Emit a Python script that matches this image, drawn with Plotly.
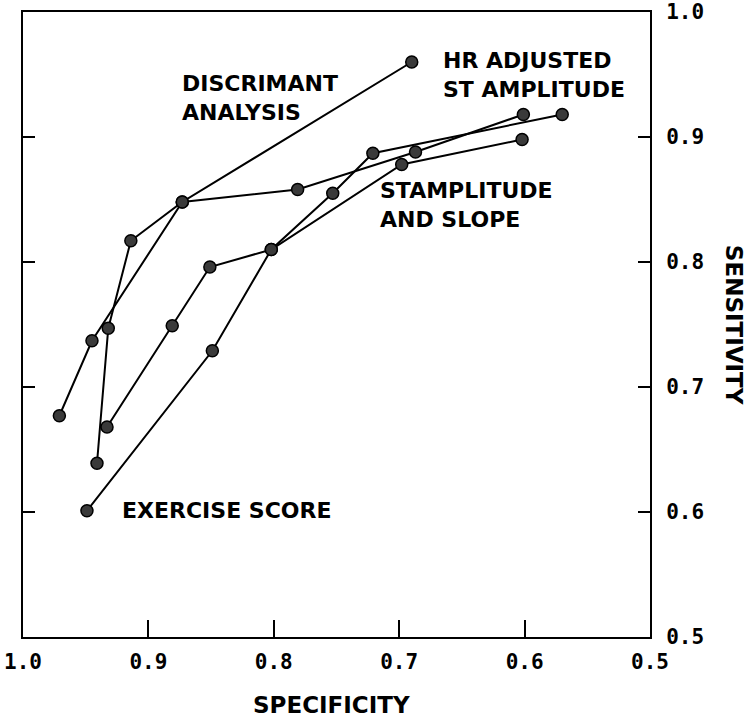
import plotly.graph_objects as go

# Discriminant analysis
da_spec = [0.971, 0.945, 0.873, 0.690]
da_sens = [0.677, 0.737, 0.848, 0.960]

# HR adjusted ST amplitude
hr_spec = [0.941, 0.932, 0.914, 0.873, 0.781, 0.687, 0.601]
hr_sens = [0.639, 0.747, 0.817, 0.848, 0.858, 0.888, 0.918]

# ST amplitude and slope
st_spec = [0.933, 0.881, 0.851, 0.802, 0.698, 0.602]
st_sens = [0.668, 0.749, 0.796, 0.810, 0.878, 0.898]

# Exercise score
ex_spec = [0.949, 0.849, 0.802, 0.753, 0.721, 0.570]
ex_sens = [0.601, 0.729, 0.810, 0.855, 0.887, 0.918]

tick_vals = [1.0, 0.9, 0.8, 0.7, 0.6, 0.5]
tick_text = ["1.0", "0.9", "0.8", "0.7", "0.6", "0.5"]

labels = [
    ("DISCRIMANT<br>ANALYSIS", 0.8748, 0.931),
    ("HR ADJUSTED<br>ST AMPLITUDE", 0.6667, 0.9496),
    ("STAMPLITUDE<br>AND SLOPE", 0.717, 0.8456),
    ("EXERCISE SCORE", 0.9226, 0.6016),
]

fig = go.Figure()
for name, xs, ys in [
    ("Discriminant analysis", da_spec, da_sens),
    ("HR adjusted ST amplitude", hr_spec, hr_sens),
    ("ST amplitude and slope", st_spec, st_sens),
    ("Exercise score", ex_spec, ex_sens),
]:
    fig.add_trace(go.Scatter(
        x=xs, y=ys, name=name, mode="lines+markers",
        line=dict(color="black", width=2),
        marker=dict(size=12, color="#3a3a3a", line=dict(color="black", width=1.5)),
        showlegend=False,
    ))

label_font = dict(family="DejaVu Sans", size=22, color="black", weight="bold")
for text, x, y in labels:
    fig.add_annotation(x=x, y=y, xref="x", yref="y", text=text, showarrow=False,
                       xanchor="left", yanchor="middle", align="left", font=label_font)

fig.add_annotation(
    x=0.492, xref="paper", y=-0.109, yref="paper", yanchor="middle",
    text="SPECIFICITY", showarrow=False,
    font=dict(family="DejaVu Sans", size=23, color="black", weight="bold"),
)
fig.add_annotation(
    x=1.135, xref="paper", y=0.5, yref="paper", xanchor="center",
    text="SENSITIVITY", showarrow=False, textangle=90,
    font=dict(family="DejaVu Sans", size=23, color="black", weight="bold"),
)

tick_font = dict(family="DejaVu Sans Mono", size=21, color="black", weight="bold")
fig.update_xaxes(
    range=[1.0, 0.5], tickvals=tick_vals, ticktext=tick_text,
    ticks="inside", ticklen=17, tickwidth=2, tickcolor="black",
    showline=True, linecolor="black", linewidth=2, mirror=True,
    showgrid=False, zeroline=False, tickfont=tick_font, ticklabelstandoff=5,
    automargin=False,
)
fig.update_yaxes(
    range=[0.5, 1.0], tickvals=tick_vals, ticktext=tick_text, side="right",
    ticks="inside", ticklen=12, tickwidth=2, tickcolor="black",
    showline=True, linecolor="black", linewidth=2, mirror="allticks",
    showgrid=False, zeroline=False, tickfont=tick_font, ticklabelstandoff=10,
    automargin=False,
)
fig.update_layout(
    width=747, height=718,
    margin=dict(l=23, r=97, t=12, b=81),
    paper_bgcolor="white", plot_bgcolor="white",
)
fig.write_html("out.html")
